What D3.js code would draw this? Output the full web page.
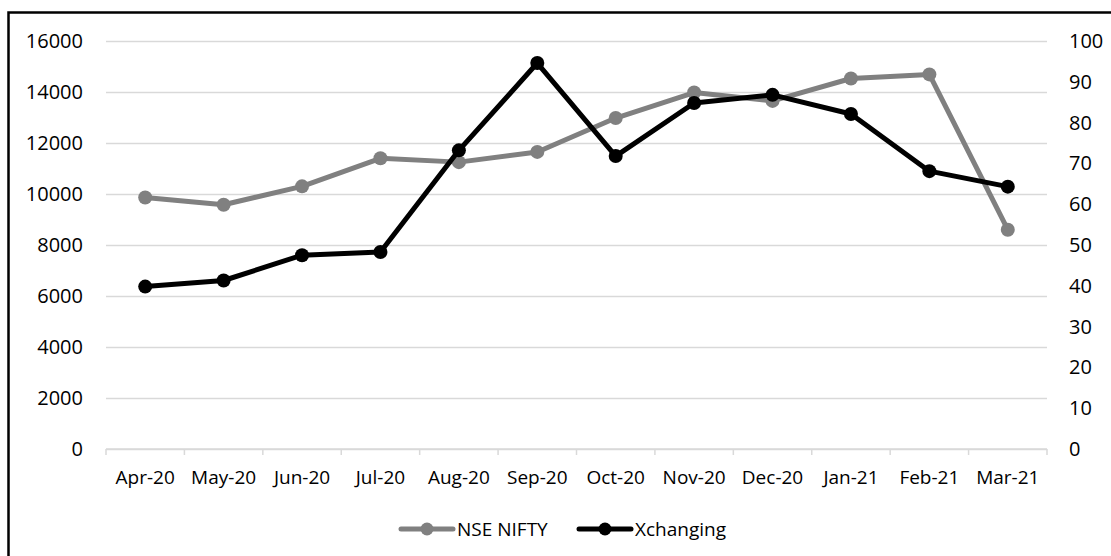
<!DOCTYPE html>
<html>
<head>
<meta charset="utf-8">
<script src="https://cdn.jsdelivr.net/npm/d3@7"></script>
<style>
  html, body { margin: 0; padding: 0; background: #fff; overflow: hidden; }
  svg { display: block; }
</style>
</head>
<body>
<div id="chart"></div>
<script>
// NSE NIFTY (left axis) vs Xchanging share price (right axis), Apr-20 .. Mar-21
const months = ["Apr-20", "May-20", "Jun-20", "Jul-20", "Aug-20", "Sep-20",
  "Oct-20", "Nov-20", "Dec-20", "Jan-21", "Feb-21", "Mar-21"];
const nifty = [9860, 9580, 10300, 11400, 11250, 11650, 12980, 13980, 13650, 14530, 14690, 8600];
const xchanging = [39.8, 41.3, 47.5, 48.3, 73.2, 94.6, 71.8, 84.8, 86.8, 82.1, 68.1, 64.3];
const leftTicks = [0, 2000, 4000, 6000, 8000, 10000, 12000, 14000, 16000];
const rightTicks = [0, 10, 20, 30, 40, 50, 60, 70, 80, 90, 100];

const width = 1111;
const height = 556;
const margin = { top: 41, right: 64, bottom: 107, left: 106 };
const innerWidth = width - margin.left - margin.right;
const innerHeight = height - margin.top - margin.bottom;
const font = "'Open Sans', sans-serif";

const svg = d3.select("#chart")
  .append("svg")
  .attr("width", width)
  .attr("height", height)
  .attr("font-family", font);

// chart border: only its left and top edges fall inside the picture
svg.append("path")
  .attr("d", `M8.5,${height} V12.5 H${width}`)
  .attr("fill", "none")
  .attr("stroke", "#000")
  .attr("stroke-width", 2.5);

const chart = svg.append("g")
  .attr("transform", `translate(${margin.left}, ${margin.top})`);

const x = d3.scaleBand()
  .domain(months)
  .range([0, innerWidth]);

const yLeft = d3.scaleLinear()
  .domain([0, 16000])
  .range([innerHeight, 0]);

const yRight = d3.scaleLinear()
  .domain([0, 100])
  .range([innerHeight, 0]);

// horizontal gridlines
chart.append("g")
  .call(d3.axisLeft(yLeft).tickValues(leftTicks).tickSize(-innerWidth).tickFormat(""))
  .call(g => g.select(".domain").remove())
  .call(g => g.selectAll("line").attr("stroke", "#d9d9d9").attr("stroke-width", 1.5));

// left axis labels
chart.append("g")
  .call(d3.axisLeft(yLeft).tickValues(leftTicks).tickSize(0).tickPadding(23).tickFormat(d3.format("d")))
  .attr("font-family", font)
  .attr("font-size", 20)
  .call(g => g.select(".domain").remove())
  .call(g => g.selectAll("text").attr("fill", "#000"));

// right axis labels
chart.append("g")
  .attr("transform", `translate(${innerWidth}, 0)`)
  .call(d3.axisRight(yRight).tickValues(rightTicks).tickSize(0).tickPadding(22).tickFormat(d3.format("d")))
  .attr("font-family", font)
  .attr("font-size", 20)
  .call(g => g.select(".domain").remove())
  .call(g => g.selectAll("text").attr("fill", "#000"));

// category axis with boundary tick marks
const xAxis = chart.append("g")
  .attr("transform", `translate(0, ${innerHeight})`);

xAxis.append("line")
  .attr("x1", 0)
  .attr("x2", innerWidth)
  .attr("stroke", "#d9d9d9")
  .attr("stroke-width", 1.5);

xAxis.selectAll(".bound")
  .data(months.concat(["end"]))
  .join("line")
  .attr("class", "bound")
  .attr("x1", (d, i) => i < months.length ? x(d) : innerWidth)
  .attr("x2", (d, i) => i < months.length ? x(d) : innerWidth)
  .attr("y1", 0)
  .attr("y2", 6)
  .attr("stroke", "#d9d9d9")
  .attr("stroke-width", 1.5);

xAxis.selectAll(".month")
  .data(months)
  .join("text")
  .attr("class", "month")
  .attr("x", d => x(d) + x.bandwidth() / 2)
  .attr("y", 35)
  .attr("text-anchor", "middle")
  .attr("font-size", 19)
  .attr("fill", "#000")
  .text(d => d);

const series = [
  { name: "NSE NIFTY", values: nifty, scale: yLeft, color: "#808080" },
  { name: "Xchanging", values: xchanging, scale: yRight, color: "#000000" }
];

series.forEach(s => {
  const line = d3.line()
    .x((d, i) => x(months[i]) + x.bandwidth() / 2)
    .y(d => s.scale(d));

  chart.append("path")
    .datum(s.values)
    .attr("fill", "none")
    .attr("stroke", s.color)
    .attr("stroke-width", 5)
    .attr("stroke-linejoin", "round")
    .attr("d", line);

  chart.selectAll(null)
    .data(s.values)
    .join("circle")
    .attr("cx", (d, i) => x(months[i]) + x.bandwidth() / 2)
    .attr("cy", d => s.scale(d))
    .attr("r", 7)
    .attr("fill", s.color);
});

// legend
const legendY = 529;
const legend = svg.append("g");
const legendItems = [
  { name: "NSE NIFTY", color: "#808080", x: 401 },
  { name: "Xchanging", color: "#000000", x: 579 }
];

legendItems.forEach(item => {
  legend.append("line")
    .attr("x1", item.x)
    .attr("x2", item.x + 52)
    .attr("y1", legendY)
    .attr("y2", legendY)
    .attr("stroke", item.color)
    .attr("stroke-width", 5)
    .attr("stroke-linecap", "round");

  legend.append("circle")
    .attr("cx", item.x + 26)
    .attr("cy", legendY)
    .attr("r", 6.5)
    .attr("fill", item.color);

  legend.append("text")
    .attr("x", item.x + 56)
    .attr("y", legendY + 7)
    .attr("font-size", 19)
    .attr("fill", "#000")
    .text(item.name);
});
</script>
</body>
</html>
